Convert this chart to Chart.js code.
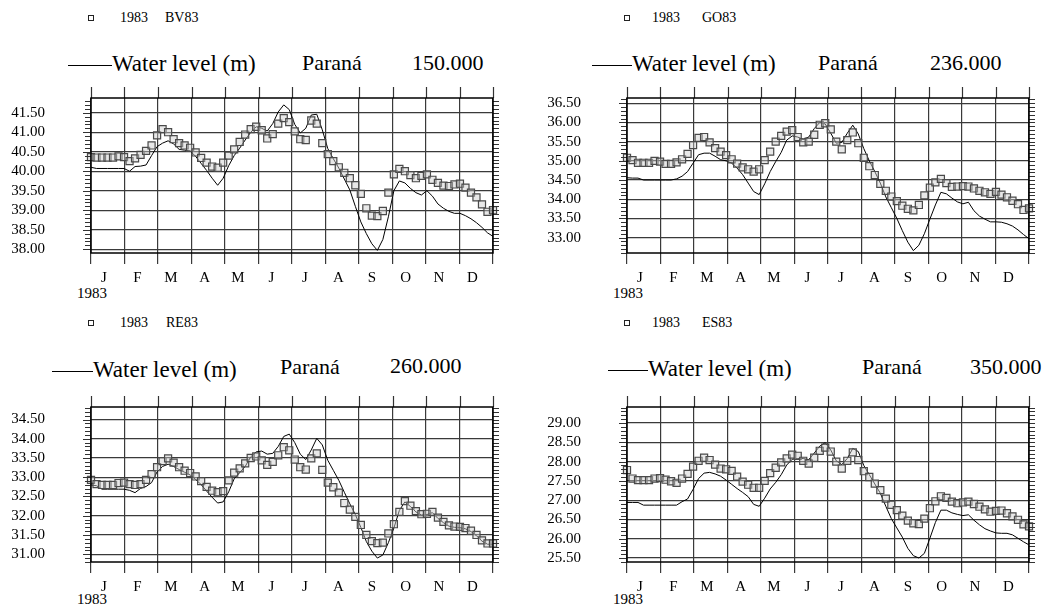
<!DOCTYPE html>
<html>
<head>
<meta charset="utf-8">
<script src="https://cdn.jsdelivr.net/npm/chart.js@4/dist/chart.umd.min.js"></script>
<style>
  html, body { margin: 0; padding: 0; background: #fff; }
  body { width: 1051px; height: 609px; position: relative; overflow: hidden;
         font-family: "Liberation Serif", "Times New Roman", serif; color: #000; }
  canvas { position: absolute; }
  .txt { position: absolute; white-space: nowrap; line-height: 1; }
  .leg { font-size: 14px; }
  .ttl { font-size: 22px; }
  .wl { font-size: 23px; }
  .yr { font-size: 15px; }
  .box { position: absolute; width: 4px; height: 4px; border: 1px solid #222; }
  .dash { position: absolute; height: 0; border-top: 1.5px solid #000; }
</style>
</head>
<body>

<!-- top left -->
<div class="box" style="left:88px;top:15px"></div>
<div class="txt leg" style="left:120px;top:11px">1983</div>
<div class="txt leg" style="left:165px;top:11px">BV83</div>
<div class="dash" style="left:68px;top:65px;width:44px"></div>
<div class="txt wl" style="left:112px;top:52px">Water level (m)</div>
<div class="txt ttl" style="left:302px;top:52px">Paraná</div>
<div class="txt ttl" style="left:412px;top:52px">150.000</div>
<div class="txt yr" style="left:77px;top:286px">1983</div>

<!-- top right -->
<div class="box" style="left:624px;top:15px"></div>
<div class="txt leg" style="left:652px;top:11px">1983</div>
<div class="txt leg" style="left:702px;top:11px">GO83</div>
<div class="dash" style="left:592px;top:65px;width:40px"></div>
<div class="txt wl" style="left:632px;top:52px">Water level (m)</div>
<div class="txt ttl" style="left:818px;top:52px">Paraná</div>
<div class="txt ttl" style="left:930px;top:52px">236.000</div>
<div class="txt yr" style="left:613px;top:286px">1983</div>

<!-- bottom left -->
<div class="box" style="left:88px;top:320px"></div>
<div class="txt leg" style="left:120px;top:316px">1983</div>
<div class="txt leg" style="left:166px;top:316px">RE83</div>
<div class="dash" style="left:52px;top:371px;width:41px"></div>
<div class="txt wl" style="left:93px;top:358px">Water level (m)</div>
<div class="txt ttl" style="left:280px;top:356px">Paraná</div>
<div class="txt ttl" style="left:390px;top:355px">260.000</div>
<div class="txt yr" style="left:77px;top:592px">1983</div>

<!-- bottom right -->
<div class="box" style="left:624px;top:320px"></div>
<div class="txt leg" style="left:652px;top:316px">1983</div>
<div class="txt leg" style="left:702px;top:316px">ES83</div>
<div class="dash" style="left:608px;top:370px;width:40px"></div>
<div class="txt wl" style="left:648px;top:357px">Water level (m)</div>
<div class="txt ttl" style="left:862px;top:356px">Paraná</div>
<div class="txt ttl" style="left:970px;top:356px">350.000</div>
<div class="txt yr" style="left:613px;top:592px">1983</div>

<canvas id="bv" width="515" height="215" style="left:0;top:80px"></canvas>
<canvas id="go" width="515" height="215" style="left:536px;top:80px"></canvas>
<canvas id="re" width="515" height="215" style="left:0;top:389px"></canvas>
<canvas id="es" width="515" height="215" style="left:536px;top:389px"></canvas>

<script>
// day of year for every sample (every 5 days through 1983)
const DAYS = [0, 5, 10, 15, 20, 25, 30, 35, 40, 45, 50, 55, 60, 65, 70, 75, 80, 85, 90, 95,
  100, 105, 110, 115, 120, 125, 130, 135, 140, 145, 150, 155, 160, 165, 170, 175, 180, 185, 190, 195,
  200, 205, 210, 215, 220, 225, 230, 235, 240, 245, 250, 255, 260, 265, 270, 275, 280, 285, 290, 295,
  300, 305, 310, 315, 320, 325, 330, 335, 340, 345, 350, 355, 360, 365];

const MONTHS = ["J", "F", "M", "A", "M", "J", "J", "A", "S", "O", "N", "D"];
// the plot splits the year in 12 equal months
const MONTH_EDGES = [0, 30.4, 60.8, 91.3, 121.7, 152.1, 182.5, 212.9, 243.3, 273.8, 304.2, 334.6, 365];

// station BV83 (km 150)
const BV83_OBS = [40.36, 40.35, 40.35, 40.35, 40.35, 40.38, 40.36, 40.26, 40.33, 40.42,
  40.52, 40.66, 40.92, 41.08, 41.00, 40.82, 40.72, 40.66, 40.60, 40.48,
  40.34, 40.22, 40.12, 40.09, 40.22, 40.40, 40.56, 40.75, 40.94, 41.08,
  41.14, 41.05, 40.84, 40.95, 41.22, 41.36, 41.26, 41.02, 40.82, 40.80,
  41.30, 41.22, 40.72, 40.44, 40.26, 40.10, 39.96, 39.82, 39.64, 39.42,
  39.05, 38.86, 38.85, 38.98, 39.45, 39.92, 40.06, 40.00, 39.90, 39.82,
  39.88, 39.92, 39.78, 39.70, 39.63, 39.62, 39.66, 39.68, 39.58, 39.45,
  39.33, 39.15, 38.96, 39.00];
const BV83_MODEL = [40.10, 40.07, 40.07, 40.07, 40.07, 40.07, 40.07, 40.00, 40.12, 40.13,
  40.16, 40.40, 40.63, 40.72, 40.78, 40.70, 40.56, 40.54, 40.52, 40.38,
  40.20, 40.02, 39.82, 39.64, 39.82, 40.14, 40.40, 40.59, 40.80, 41.00,
  41.14, 41.10, 41.03, 41.22, 41.52, 41.70, 41.58, 41.20, 40.98, 41.10,
  41.44, 41.46, 41.06, 40.58, 40.32, 40.08, 39.80, 39.52, 39.10, 38.70,
  38.40, 38.14, 37.97, 38.25, 38.83, 39.50, 39.75, 39.70, 39.56, 39.45,
  39.39, 39.50, 39.36, 39.16, 39.05, 38.97, 38.92, 38.92, 38.86, 38.78,
  38.68, 38.56, 38.42, 38.33];
const BV83_RANGE = [37.903, 41.877];

// station GO83 (km 236)
const GO83_OBS = [35.08, 35.02, 34.95, 34.95, 34.95, 35.00, 34.98, 34.92, 34.92, 34.96,
  35.04, 35.18, 35.41, 35.60, 35.62, 35.48, 35.33, 35.24, 35.15, 35.04,
  34.93, 34.83, 34.78, 34.72, 34.78, 35.02, 35.24, 35.50, 35.65, 35.76,
  35.80, 35.62, 35.48, 35.50, 35.68, 35.94, 35.98, 35.82, 35.50, 35.30,
  35.54, 35.74, 35.46, 35.08, 34.86, 34.63, 34.40, 34.22, 34.07, 33.95,
  33.83, 33.75, 33.71, 33.85, 34.10, 34.30, 34.44, 34.53, 34.42, 34.32,
  34.33, 34.34, 34.33, 34.28, 34.22, 34.18, 34.14, 34.19, 34.12, 34.05,
  33.96, 33.87, 33.72, 33.76];
const GO83_MODEL = [34.56, 34.55, 34.55, 34.50, 34.50, 34.50, 34.50, 34.50, 34.50, 34.53,
  34.60, 34.72, 34.94, 35.16, 35.20, 35.20, 35.12, 35.03, 35.00, 34.94,
  34.81, 34.64, 34.42, 34.20, 34.12, 34.40, 34.72, 34.98, 35.22, 35.54,
  35.65, 35.62, 35.56, 35.62, 35.84, 36.00, 35.96, 35.72, 35.46, 35.48,
  35.72, 35.93, 35.70, 35.32, 35.00, 34.72, 34.42, 34.06, 33.78, 33.50,
  33.18, 32.88, 32.66, 32.80, 33.10, 33.48, 33.85, 34.18, 34.14, 34.03,
  33.93, 33.88, 33.92, 33.70, 33.56, 33.48, 33.41, 33.41, 33.40, 33.36,
  33.30, 33.20, 33.08, 32.97];
const GO83_RANGE = [32.598, 36.638];

// station RE83 (km 260)
const RE83_OBS = [32.93, 32.82, 32.80, 32.80, 32.80, 32.85, 32.86, 32.82, 32.80, 32.82,
  32.93, 33.08, 33.26, 33.42, 33.49, 33.38, 33.26, 33.17, 33.11, 33.02,
  32.90, 32.75, 32.65, 32.61, 32.64, 32.92, 33.12, 33.23, 33.36, 33.50,
  33.54, 33.44, 33.32, 33.40, 33.57, 33.78, 33.70, 33.46, 33.26, 33.20,
  33.49, 33.62, 33.19, 32.86, 32.74, 32.60, 32.33, 32.16, 31.97, 31.76,
  31.50, 31.34, 31.29, 31.30, 31.54, 31.78, 32.10, 32.38, 32.26, 32.12,
  32.04, 32.05, 32.10, 31.95, 31.84, 31.75, 31.72, 31.71, 31.68, 31.61,
  31.50, 31.36, 31.28, 31.28];
const RE83_MODEL = [32.80, 32.78, 32.69, 32.69, 32.69, 32.69, 32.69, 32.66, 32.60, 32.71,
  32.76, 32.86, 33.14, 33.28, 33.34, 33.28, 33.20, 33.13, 33.06, 32.94,
  32.81, 32.64, 32.48, 32.33, 32.36, 32.62, 32.96, 33.12, 33.28, 33.53,
  33.66, 33.68, 33.60, 33.62, 33.80, 34.06, 34.12, 33.90, 33.60, 33.46,
  33.71, 34.01, 33.84, 33.44, 33.18, 32.92, 32.61, 32.31, 32.03, 31.70,
  31.33, 31.08, 30.90, 30.98, 31.30, 31.68, 32.14, 32.36, 32.24, 32.10,
  32.02, 32.03, 32.08, 31.93, 31.82, 31.73, 31.70, 31.69, 31.66, 31.59,
  31.48, 31.34, 31.26, 31.26];
const RE83_RANGE = [30.798, 34.825];

// station ES83 (km 350)
const ES83_OBS = [27.78, 27.56, 27.52, 27.52, 27.52, 27.56, 27.57, 27.53, 27.49, 27.45,
  27.56, 27.68, 27.87, 28.02, 28.10, 28.04, 27.92, 27.82, 27.80, 27.76,
  27.61, 27.48, 27.40, 27.32, 27.32, 27.50, 27.70, 27.84, 27.98, 28.08,
  28.18, 28.15, 28.02, 27.95, 28.10, 28.28, 28.36, 28.26, 28.00, 27.82,
  28.02, 28.24, 28.04, 27.75, 27.60, 27.43, 27.26, 27.04, 26.88, 26.74,
  26.60, 26.47, 26.40, 26.38, 26.52, 26.79, 26.97, 27.10, 27.06, 26.96,
  26.92, 26.94, 26.96, 26.90, 26.83, 26.76, 26.70, 26.72, 26.73, 26.66,
  26.58, 26.49, 26.37, 26.32];
const ES83_MODEL = [26.94, 26.94, 26.94, 26.87, 26.87, 26.87, 26.87, 26.87, 26.87, 26.87,
  26.96, 27.03, 27.28, 27.56, 27.70, 27.72, 27.68, 27.62, 27.52, 27.41,
  27.30, 27.20, 27.09, 26.89, 26.84, 27.05, 27.29, 27.46, 27.66, 27.91,
  28.06, 28.08, 28.08, 28.05, 28.22, 28.40, 28.49, 28.30, 28.02, 27.92,
  28.08, 28.34, 28.26, 27.90, 27.66, 27.42, 27.18, 26.84, 26.52, 26.28,
  26.04, 25.75, 25.56, 25.50, 25.62, 26.01, 26.42, 26.74, 26.74, 26.67,
  26.63, 26.60, 26.62, 26.48, 26.36, 26.26, 26.20, 26.15, 26.14, 26.14,
  26.10, 26.01, 25.92, 25.84];
const ES83_RANGE = [25.396, 29.415];

Chart.defaults.font.family = "'Liberation Serif', 'Times New Roman', serif";
Chart.defaults.color = "#000";

// box round the plot, month lines poking out the top, ruler ticks on both sides
const framePlugin = {
  id: "frame",
  afterDraw(chart) {
    const { ctx, chartArea: a, scales } = chart;
    const x = scales.x;
    const y = scales.y;
    ctx.save();
    ctx.strokeStyle = "#333";
    ctx.lineWidth = 1.2;
    ctx.beginPath();
    x.ticks.forEach((t) => {
      const px = Math.round(x.getPixelForValue(t.value)) + 0.5;
      ctx.moveTo(px, a.top - 11);
      ctx.lineTo(px, a.top);
    });
    y.ticks.forEach((t) => {
      const py = Math.round(y.getPixelForValue(t.value)) + 0.5;
      ctx.moveTo(a.left - 8, py);
      ctx.lineTo(a.left, py);
      ctx.moveTo(a.right, py);
      ctx.lineTo(a.right + 6, py);
    });
    ctx.stroke();
    ctx.lineWidth = 1;
    ctx.beginPath();
    for (let v = Math.ceil(y.min * 10) / 10; v < y.max; v += 0.1) {
      const py = Math.round(y.getPixelForValue(v)) + 0.5;
      ctx.moveTo(a.left - 6, py);
      ctx.lineTo(a.left, py);
      ctx.moveTo(a.right, py);
      ctx.lineTo(a.right + 6, py);
    }
    ctx.stroke();
    ctx.strokeStyle = "#000";
    ctx.lineWidth = 1.5;
    ctx.strokeRect(a.left, a.top, a.right - a.left, a.bottom - a.top);
    ctx.restore();
  },
};

function makeChart(id, obs, model, range) {
  return new Chart(document.getElementById(id), {
    type: "line",
    data: {
      datasets: [
        {
          label: "1983",
          data: DAYS.map((d, i) => ({ x: d, y: obs[i] })),
          showLine: false,
          pointStyle: "rect",
          pointRadius: 5,
          pointBorderWidth: 1.2,
          pointBorderColor: "#4a4a4a",
          pointBackgroundColor: "rgba(205,205,205,0.45)",
          order: 0,
          clip: 6,
        },
        {
          label: "Water level (m)",
          data: DAYS.map((d, i) => ({ x: d, y: model[i] })),
          borderColor: "#000",
          borderWidth: 1,
          pointRadius: 0,
          tension: 0,
          order: 1,
          clip: 2,
        },
      ],
    },
    options: {
      responsive: false,
      animation: false,
      events: [],
      layout: { padding: { top: 18, right: 22, left: 0, bottom: 0 } },
      plugins: { legend: { display: false }, tooltip: { enabled: false } },
      scales: {
        x: {
          type: "linear",
          min: 0,
          max: 365,
          afterBuildTicks: (s) => {
            s.ticks = MONTH_EDGES.map((v) => ({ value: v }));
          },
          afterFit: (s) => {
            s.height = 42;
            s.paddingLeft = 0;
            s.paddingRight = 0;
          },
          ticks: {
            autoSkip: false,
            maxRotation: 0,
            labelOffset: 13,
            padding: 5,
            font: { size: 15 },
            callback: (v, i) => MONTHS[i] || "",
          },
          grid: { color: "#3a3a3a", lineWidth: 1.2, tickLength: 11 },
          border: { display: false },
        },
        y: {
          min: range[0],
          max: range[1],
          afterFit: (s) => {
            // keep the wide label gap without shrinking the plot
            s.width = 91;
            s.paddingTop = 0;
            s.paddingBottom = 0;
          },
          ticks: {
            stepSize: 0.5,
            includeBounds: false,
            padding: 46,
            font: { size: 15 },
            callback: (v) => v.toFixed(2),
          },
          grid: { color: "#3a3a3a", lineWidth: 1.2, drawTicks: false },
          border: { display: false },
        },
      },
    },
    plugins: [framePlugin],
  });
}

makeChart("bv", BV83_OBS, BV83_MODEL, BV83_RANGE);
makeChart("go", GO83_OBS, GO83_MODEL, GO83_RANGE);
makeChart("re", RE83_OBS, RE83_MODEL, RE83_RANGE);
makeChart("es", ES83_OBS, ES83_MODEL, ES83_RANGE);
</script>
</body>
</html>
